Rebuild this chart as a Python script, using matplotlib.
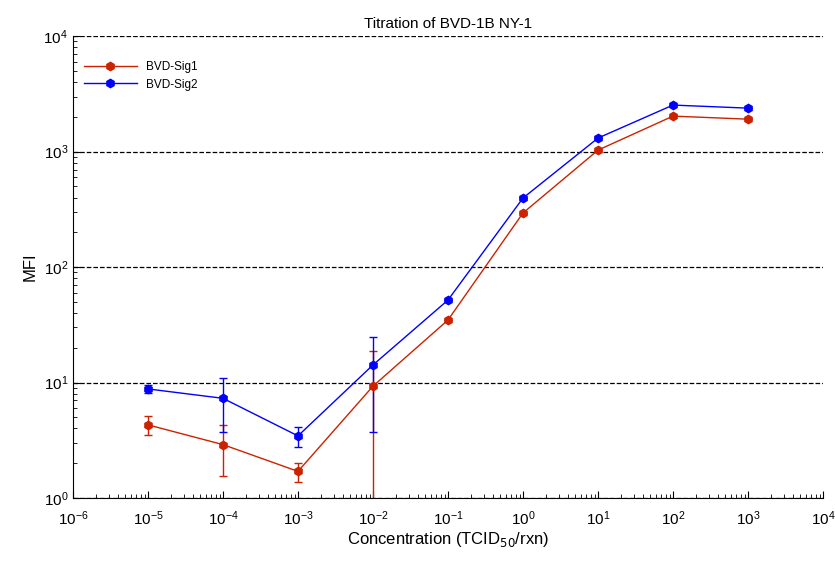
import numpy as np
import matplotlib.pyplot as plt
from matplotlib.ticker import LogLocator, NullFormatter
from matplotlib.lines import Line2D

plt.rcParams['font.family'] = ['Liberation Sans', 'DejaVu Sans']

conc = [1e-5, 1e-4, 1e-3, 1e-2, 1e-1, 1e0, 1e1, 1e2, 1e3]
sig1 = [4.3, 2.9, 1.7, 9.3, 34.8, 294, 1030, 2030, 1910]
sig1_err = [0.8, 1.35, 0.32, 9.5, 0, 0, 0, 0, 0]
sig2 = [8.8, 7.3, 3.45, 14.2, 51.8, 396, 1310, 2530, 2380]
sig2_err = [0.7, 3.6, 0.7, 10.5, 0, 0, 0, 0, 0]

red = '#cc2200'
blue = '#0000ff'

fig = plt.figure(figsize=(8.35, 5.65), dpi=100)
ax = fig.add_axes([0.0874, 0.1186, 0.8982, 0.8174])

ax.errorbar(conc, sig1, yerr=sig1_err, color=red, marker='h', markersize=6,
            lw=1, elinewidth=1, capsize=3)
ax.errorbar(conc, sig2, yerr=sig2_err, color=blue, marker='h', markersize=6,
            lw=1, elinewidth=1, capsize=3)

ax.set_xscale('log')
ax.set_yscale('log')
ax.set_xlim(1e-6, 1e4)
ax.set_ylim(1, 1e4)
ax.set_xticks([10.0 ** k for k in range(-6, 5)])
ax.set_yticks([10.0 ** k for k in range(0, 5)])
for axis in (ax.xaxis, ax.yaxis):
    axis.set_minor_locator(LogLocator(base=10, subs=np.arange(2, 10), numticks=50))
    axis.set_minor_formatter(NullFormatter())
ax.yaxis.grid(True, which='major', linestyle='--', color='black', lw=0.9)
ax.spines['top'].set_visible(False)
ax.spines['right'].set_visible(False)
ax.tick_params(which='both', direction='in', labelsize=11)
ax.tick_params(which='major', length=5)
ax.tick_params(which='minor', length=3)
ax.tick_params(axis='x', pad=8)

ax.set_title('Titration of BVD-1B NY-1', fontsize=11)
ax.set_xlabel('Concentration (TCID$_{50}$/rxn)', fontsize=12, labelpad=2)
ax.set_ylabel('MFI', fontsize=12)

handles = [Line2D([], [], color=red, marker='h', markersize=6, lw=1),
           Line2D([], [], color=blue, marker='h', markersize=6, lw=1)]
ax.legend(handles, ['BVD-Sig1', 'BVD-Sig2'], loc='upper left', frameon=False,
          fontsize=8.5, bbox_to_anchor=(0.0, 0.97), handlelength=4.5)

fig.savefig('out.png', dpi=100)
